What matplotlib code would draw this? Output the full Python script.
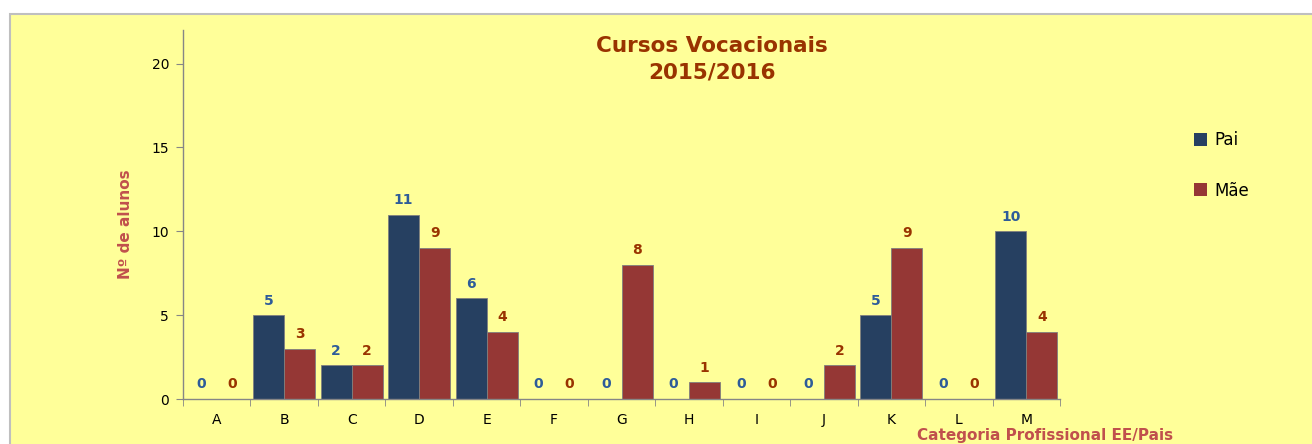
import matplotlib
matplotlib.use("Agg")
import matplotlib.pyplot as plt
import numpy as np
from matplotlib.patches import Rectangle, Patch

categories = ["A", "B", "C", "D", "E", "F", "G", "H", "I", "J", "K", "L", "M"]
pai = [0, 5, 2, 11, 6, 0, 0, 0, 0, 0, 5, 0, 10]
mae = [0, 3, 2, 9, 4, 0, 8, 1, 0, 2, 9, 0, 4]
series_names = ["Pai", "Mãe"]
yticks = [0, 5, 10, 15, 20]

bg = "#FFFF99"
c_pai = "#264061"
c_mae = "#953735"
lab_pai = "#2E5C99"
lab_mae = "#993300"
axis_lab = "#C0504D"

plt.rcParams['font.family'] = ['DejaVu Sans']

fig = plt.figure(figsize=(13.12, 4.44), dpi=100)
fig.patch.set_facecolor("white")
fig.patches.append(Rectangle((10/1312, -0.1), 1.0, 1.1 - 14/444, transform=fig.transFigure,
                             facecolor=bg, edgecolor="#BFBFBF", linewidth=1.5, zorder=-10))

ax = fig.add_axes([183/1312, 1 - 399/444, (1060-183)/1312, (399-30)/444])
ax.set_facecolor("none")
ax.set_zorder(5)

x = np.arange(len(categories))
w = 0.46
b1 = ax.bar(x - w/2, pai, w, color=c_pai, edgecolor="#7F7F7F", linewidth=0.6, label=series_names[0])
b2 = ax.bar(x + w/2, mae, w, color=c_mae, edgecolor="#7F7F7F", linewidth=0.6, label=series_names[1])

for xi, v in zip(x, pai):
    ax.text(xi - w/2, v + 0.45, str(v), ha="center", va="bottom", fontsize=10,
            fontweight="bold", color=lab_pai)
for xi, v in zip(x, mae):
    ax.text(xi + w/2, v + 0.45, str(v), ha="center", va="bottom", fontsize=10,
            fontweight="bold", color=lab_mae)

ax.set_xlim(-0.5, len(categories) - 0.5)
ax.set_ylim(0, 22)
ax.set_yticks(yticks)
ax.set_xticks(x)
ax.set_xticklabels(categories)
ax.set_xticks(np.arange(-0.5, len(categories)), minor=True)
ax.tick_params(axis="x", which="major", length=0, pad=10, labelsize=10)
ax.tick_params(axis="x", which="minor", length=5, color="#868686", direction="out")
ax.tick_params(axis="y", length=5, color="#868686", labelsize=10, pad=5)
for s in ["top", "right"]:
    ax.spines[s].set_visible(False)
for s in ["left", "bottom"]:
    ax.spines[s].set_color("#868686")
    ax.spines[s].set_linewidth(1.0)

fig.text(712/1312, 1 - 46/444, "Cursos Vocacionais", ha="center", va="center",
         fontsize=15.5, fontweight="bold", color=lab_mae)
fig.text(712/1312, 1 - 73/444, "2015/2016", ha="center", va="center",
         fontsize=15.5, fontweight="bold", color=lab_mae)

fig.text(125/1312, 1 - 224/444, "Nº de alunos", rotation=90, ha="center", va="center",
         fontsize=11, fontweight="bold", color=axis_lab)
fig.text(1045/1312, 1 - 435/444, "Categoria Profissional EE/Pais", ha="center", va="center",
         fontsize=11, fontweight="bold", color=axis_lab)

handles = [Patch(facecolor=c_pai, edgecolor="none"), Patch(facecolor=c_mae, edgecolor="none")]
leg = fig.legend(handles, series_names, loc="upper left", bbox_to_anchor=(1179/1312, 1 - 116/444),
                 frameon=False, fontsize=12, handlelength=0.8, handleheight=0.8,
                 handletextpad=0.4, labelspacing=1.95)

fig.savefig("out.png", dpi=100, facecolor=fig.get_facecolor())
